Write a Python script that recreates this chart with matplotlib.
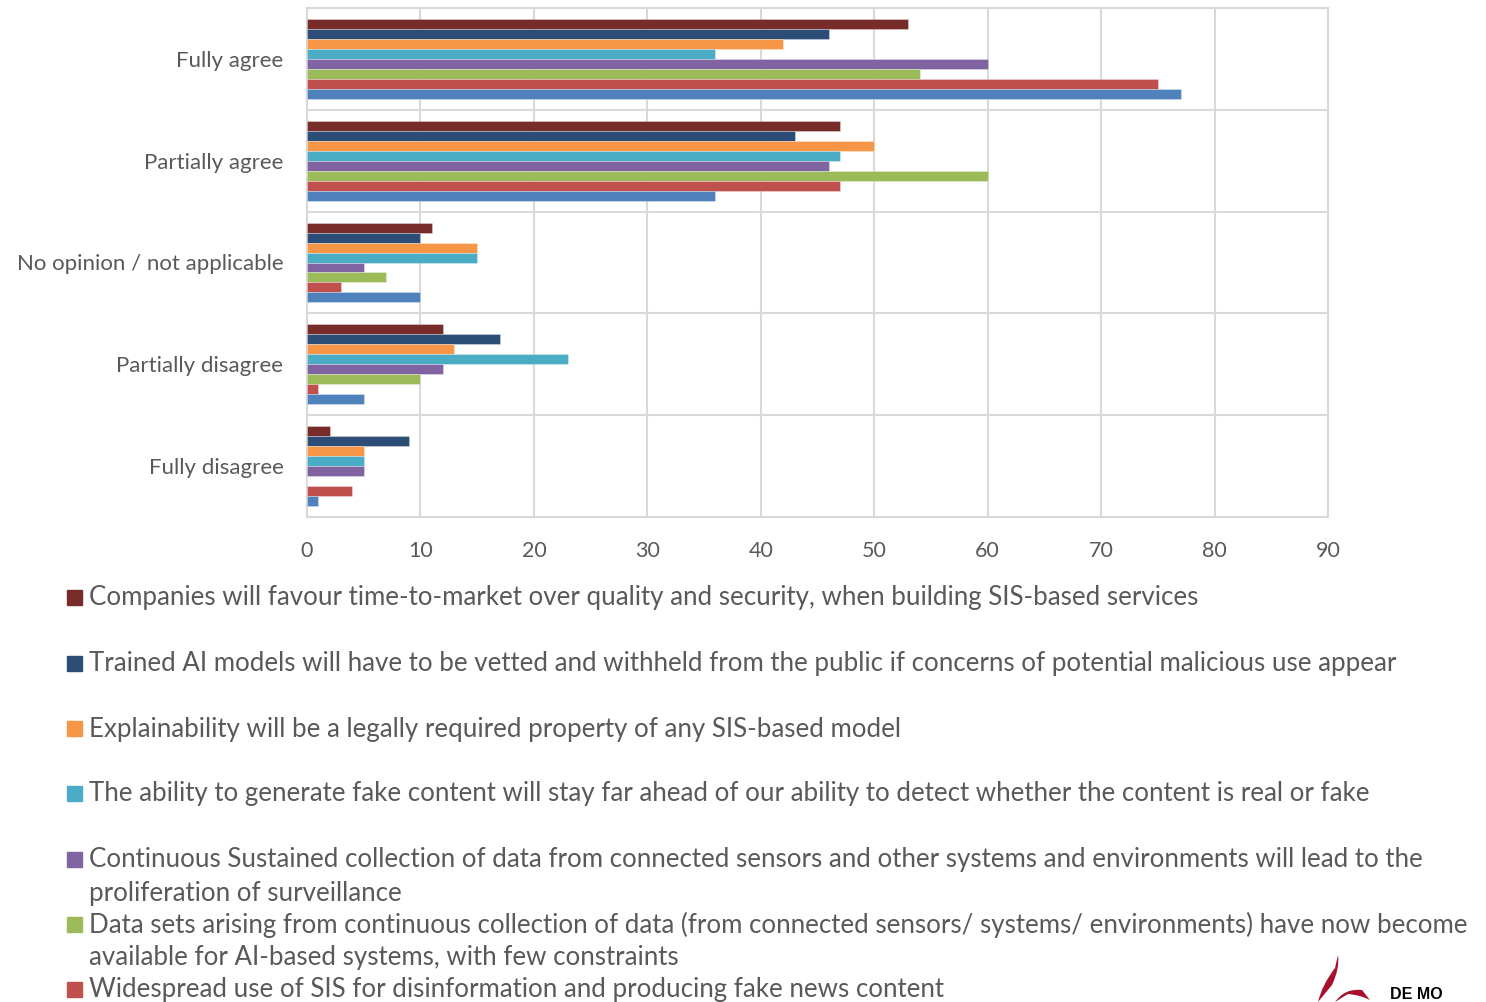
import matplotlib
matplotlib.use("Agg")
import matplotlib.pyplot as plt
from matplotlib.path import Path
from matplotlib.patches import PathPatch
import numpy as np

plt.rcParams['font.family'] = ['Lato', 'DejaVu Sans']

categories = ["Fully agree", "Partially agree", "No opinion / not applicable",
              "Partially disagree", "Fully disagree"]

s_companies   = [53, 47, 11, 12, 2]
s_trained     = [46, 43, 10, 17, 9]
s_explain     = [42, 50, 15, 13, 5]
s_fake        = [36, 47, 15, 23, 5]
s_continuous  = [60, 46, 5, 12, 5]
s_datasets    = [54, 60, 7, 10, 0]
s_widespread  = [75, 47, 3, 1, 4]
s_eighth      = [77, 36, 10, 5, 1]

series = [s_companies, s_trained, s_explain, s_fake, s_continuous,
          s_datasets, s_widespread, s_eighth]
colors = ["#772C2A", "#2C4D75", "#F79646", "#4BACC6", "#8064A2",
          "#9BBB59", "#C0504D", "#4F81BD"]

legend_labels = [
    ["Companies will favour time-to-market over quality and security, when building SIS-based services"],
    ["Trained AI models will have to be vetted and withheld from the public if concerns of potential malicious use appear"],
    ["Explainability will be a legally required property of any SIS-based model"],
    ["The ability to generate fake content will stay far ahead of our ability to detect whether the content is real or fake"],
    ["Continuous Sustained collection of data from connected sensors and other systems and environments will lead to the",
     "proliferation of surveillance"],
    ["Data sets arising from continuous collection of data (from connected sensors/ systems/ environments) have now become",
     "available for AI-based systems, with few constraints"],
    ["Widespread use of SIS for disinformation and producing fake news content"],
]

W, H = 1486, 1002
fig = plt.figure(figsize=(W / 100, H / 100), dpi=100)
ax = fig.add_axes([307 / W, 1 - 517 / H, (1328 - 307) / W, (517 - 8) / H])

text_col = "#595959"
grid_col = "#D9D9D9"

n = len(series)
h = 0.098
idx = np.arange(len(categories))
for j, (vals, c) in enumerate(zip(series, colors)):
    ax.barh(idx + (j - (n - 1) / 2) * h, vals, height=h, color=c,
            edgecolor=(1, 1, 1, 0.35), linewidth=0.6, zorder=3)

ax.set_xlim(0, 90)
ax.set_ylim(4.5, -0.5)
ax.set_xticks(np.arange(0, 91, 10))
ax.set_yticks(idx)
ax.set_yticklabels(categories)
ax.set_yticks(np.arange(-0.5, 4.6, 1), minor=True)
ax.grid(axis='x', which='major', color=grid_col, linewidth=1.5, zorder=0)
ax.grid(axis='y', which='minor', color=grid_col, linewidth=1.5, zorder=0)
ax.tick_params(axis='both', which='both', length=0)
ax.tick_params(axis='x', labelsize=15.5, labelcolor=text_col, pad=17)
ax.tick_params(axis='y', labelsize=16, labelcolor=text_col, pad=17)
for sp in ax.spines.values():
    sp.set_color(grid_col)
    sp.set_linewidth(1.5)

# legend (manual, fixed slots)
slot_y = [598, 664, 729, 794, 860, 925, 990]
line_gap = 33
for k, (lines, yc) in enumerate(zip(legend_labels, slot_y)):
    fig.patches.append(plt.Rectangle((67 / W, 1 - (yc + 7) / H), 15 / W, 15 / H,
                                     transform=fig.transFigure, color=colors[k],
                                     figure=fig))
    for m, line in enumerate(lines):
        fig.text(89 / W, 1 - (yc + m * line_gap) / H, line, fontsize=18.6,
                 color=text_col, va='center', ha='left')

# partial logo at bottom right
verts = [(1318, 1002), (1322, 985), (1335, 968), (1338, 955),
         (1340, 968), (1332, 985), (1328, 1002)]
codes = [Path.MOVETO, Path.CURVE3, Path.CURVE3, Path.LINETO,
         Path.CURVE3, Path.CURVE3, Path.CLOSEPOLY]
pts = [(x / W, 1 - y / H) for x, y in verts]
fig.patches.append(PathPatch(Path(pts, codes), transform=fig.transFigure,
                             facecolor="#A8102E", edgecolor="none", figure=fig))
swirl = [(1335, 1002), (1345, 988), (1362, 990), (1370, 1000),
         (1360, 995), (1348, 994), (1335, 1002)]
codes2 = [Path.MOVETO, Path.CURVE3, Path.CURVE3, Path.LINETO,
          Path.CURVE3, Path.CURVE3, Path.CLOSEPOLY]
pts2 = [(x / W, 1 - y / H) for x, y in swirl]
fig.patches.append(PathPatch(Path(pts2, codes2), transform=fig.transFigure,
                             facecolor="#A8102E", edgecolor="none", figure=fig))
fig.text(1390 / W, 1 - 987 / H, "DE MO", fontsize=11.5, fontweight='bold',
         color='black', va='top', ha='left', family=['Liberation Sans'])

fig.savefig("out.png", dpi=100, facecolor='white')
